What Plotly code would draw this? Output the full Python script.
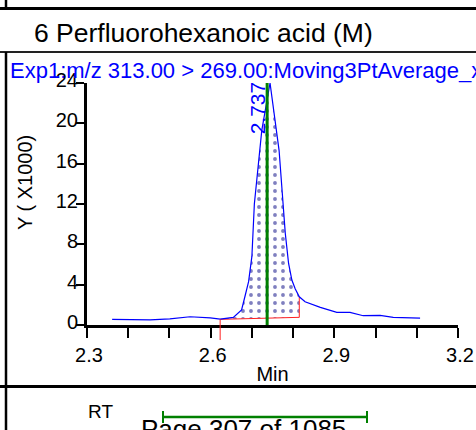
import plotly.graph_objects as go
import numpy as np

# ---- data ----
title_text = "6 Perfluorohexanoic acid (M)"
trace_label = "Exp1:m/z 313.00 > 269.00:Moving3PtAverage_x"
time_min = [2.361, 2.404, 2.453, 2.501, 2.550, 2.599, 2.623, 2.655, 2.675, 2.683,
            2.692, 2.700, 2.706, 2.724, 2.744, 2.766, 2.774, 2.781, 2.789, 2.797,
            2.805, 2.815, 2.829, 2.866, 2.906, 2.938, 2.970, 3.011, 3.043, 3.108]
intensity_k = [0.56, 0.54, 0.50, 0.60, 0.82, 0.70, 0.58, 0.76, 1.5, 2.8,
               4.3, 6.8, 12.0, 19.3, 24.0, 17.3, 12.4, 9.1, 6.1, 4.46,
               3.6, 2.8, 2.3, 1.75, 1.26, 1.26, 0.92, 0.96, 0.76, 0.69]
peak_rt = 2.737
peak_start, peak_end = 2.623, 2.815
baseline_start, baseline_end = 0.56, 0.76
x_tickvals = [2.3, 2.4, 2.5, 2.6, 2.7, 2.8, 2.9, 3.0, 3.1, 3.2]
x_ticktext = ["2.3", "", "", "2.6", "", "", "2.9", "", "", "3.2"]
y_tickvals = [0, 4, 8, 12, 16, 20, 24]
y_ticktext = ["0", "4", "8", "12", "16", "20", "24"]
rt_label = "RT"
page_text = "Page 307 of 1085"

FONT = "Liberation Sans, Arial, sans-serif"
W, H = 476, 430
PL, PR, PT, PB = 87, 458, 83, 325

def px(xp):
    return (xp - PL) / (PR - PL)

def py(yp):
    return (PB - yp) / (PB - PT)

t = np.array(time_min)
yv = np.array(intensity_k)
mask = (t >= peak_start) & (t <= peak_end)
fill_x = list(t[mask]) + [peak_end, peak_start]
fill_y = list(yv[mask]) + [baseline_end, baseline_start]

fig = go.Figure()
fig.add_trace(go.Scatter(
    x=fill_x, y=fill_y, mode="lines", fill="toself",
    line=dict(width=0, color="rgba(0,0,0,0)"),
    fillcolor="white",
    fillpattern=dict(shape=".", fgcolor="#000080", bgcolor="white", size=8, solidity=0.18),
    hoverinfo="skip", showlegend=False))
fig.add_trace(go.Scatter(
    x=[peak_start, peak_end, peak_end],
    y=[baseline_start, baseline_end, float(yv[t == peak_end][0])],
    mode="lines", line=dict(color="#ff2020", width=1), showlegend=False))
fig.add_trace(go.Scatter(
    x=time_min, y=intensity_k, mode="lines",
    line=dict(color="#0000ff", width=1.2), showlegend=False))
fig.add_trace(go.Scatter(
    x=[peak_rt, peak_rt], y=[0, max(intensity_k)], mode="lines",
    line=dict(color="#008000", width=3), showlegend=False))

shapes = [
    # peak start marker extending below the axis
    dict(type="line", xref="x", yref="paper", x0=peak_start, x1=peak_start,
         y0=py(340), y1=baseline_start / 24, line=dict(color="#ff2020", width=1)),
    # frame lines
    dict(type="line", xref="paper", yref="paper", x0=px(0), x1=px(W), y0=py(8.5), y1=py(8.5),
         line=dict(color="black", width=3)),
    dict(type="line", xref="paper", yref="paper", x0=px(6), x1=px(6), y0=py(0), y1=py(8.5),
         line=dict(color="black", width=2.5)),
    dict(type="line", xref="paper", yref="paper", x0=px(0), x1=px(W), y0=py(52), y1=py(52),
         line=dict(color="#222", width=2)),
    dict(type="line", xref="paper", yref="paper", x0=px(6), x1=px(6), y0=py(52), y1=py(H),
         line=dict(color="black", width=2.5)),
    dict(type="line", xref="paper", yref="paper", x0=px(0), x1=px(W), y0=py(386.5), y1=py(386.5),
         line=dict(color="black", width=3)),
    # RT window bar
    dict(type="line", xref="paper", yref="paper", x0=px(163), x1=px(367), y0=py(417), y1=py(417),
         line=dict(color="#008000", width=2.5)),
    dict(type="line", xref="paper", yref="paper", x0=px(163), x1=px(163), y0=py(411), y1=py(423),
         line=dict(color="#008000", width=2)),
    dict(type="line", xref="paper", yref="paper", x0=px(367), x1=px(367), y0=py(411), y1=py(423),
         line=dict(color="#008000", width=2)),
]

annotations = [
    dict(text=title_text, xref="paper", yref="paper", x=px(32), y=py(33),
         xanchor="left", yanchor="middle", showarrow=False,
         font=dict(family=FONT, size=26.5, color="black")),
    dict(text=trace_label, xref="paper", yref="paper", x=px(8), y=py(70),
         xanchor="left", yanchor="middle", showarrow=False,
         font=dict(family=FONT, size=22, color="#0000ff")),
    dict(text=str(peak_rt), x=peak_rt, y=21.5, xref="x", yref="y", textangle=-90,
         xshift=-10, showarrow=False, font=dict(family=FONT, size=21, color="#0000ff")),
    dict(text="Y ( X1000)", xref="paper", yref="paper", x=px(25), y=py(183), textangle=-90,
         xanchor="center", yanchor="middle", showarrow=False,
         font=dict(family=FONT, size=20, color="black")),
    dict(text=rt_label, xref="paper", yref="paper", x=px(100), y=py(411),
         xanchor="center", yanchor="middle", showarrow=False,
         font=dict(family=FONT, size=19, color="black")),
    dict(text=page_text, xref="paper", yref="paper", x=px(139), y=py(412),
         xanchor="left", yanchor="top", showarrow=False,
         font=dict(family=FONT, size=26, color="black")),
]

fig.update_layout(
    width=W, height=H, autosize=False,
    margin=dict(l=PL, r=W - PR, t=PT, b=H - PB, pad=0),
    paper_bgcolor="white", plot_bgcolor="white",
    font=dict(family=FONT, size=20, color="black"),
    showlegend=False,
    shapes=shapes, annotations=annotations,
    xaxis=dict(range=[2.3, 3.2], tickmode="array", tickvals=x_tickvals, ticktext=x_ticktext,
               ticks="outside", ticklen=10, tickwidth=2, tickcolor="black",
               ticklabelshift=2, automargin=False,
               showline=True, linewidth=3, linecolor="black", showgrid=False, zeroline=False,
               tickfont=dict(family=FONT, size=20, color="black"),
               title=dict(text="Min", font=dict(family=FONT, size=20, color="black"), standoff=2)),
    yaxis=dict(range=[0, 24], tickmode="array", tickvals=y_tickvals, ticktext=y_ticktext,
               ticks="outside", ticklen=8, tickwidth=2, tickcolor="black",
               ticklabelstandoff=-6, ticklabelshift=-3, automargin=False,
               showline=True, linewidth=3, linecolor="black", showgrid=False, zeroline=False,
               tickfont=dict(family=FONT, size=20, color="black")),
)

fig.write_html("out.html", config={"displayModeBar": False, "responsive": False},
               post_script="document.body.style.margin='0px';")
